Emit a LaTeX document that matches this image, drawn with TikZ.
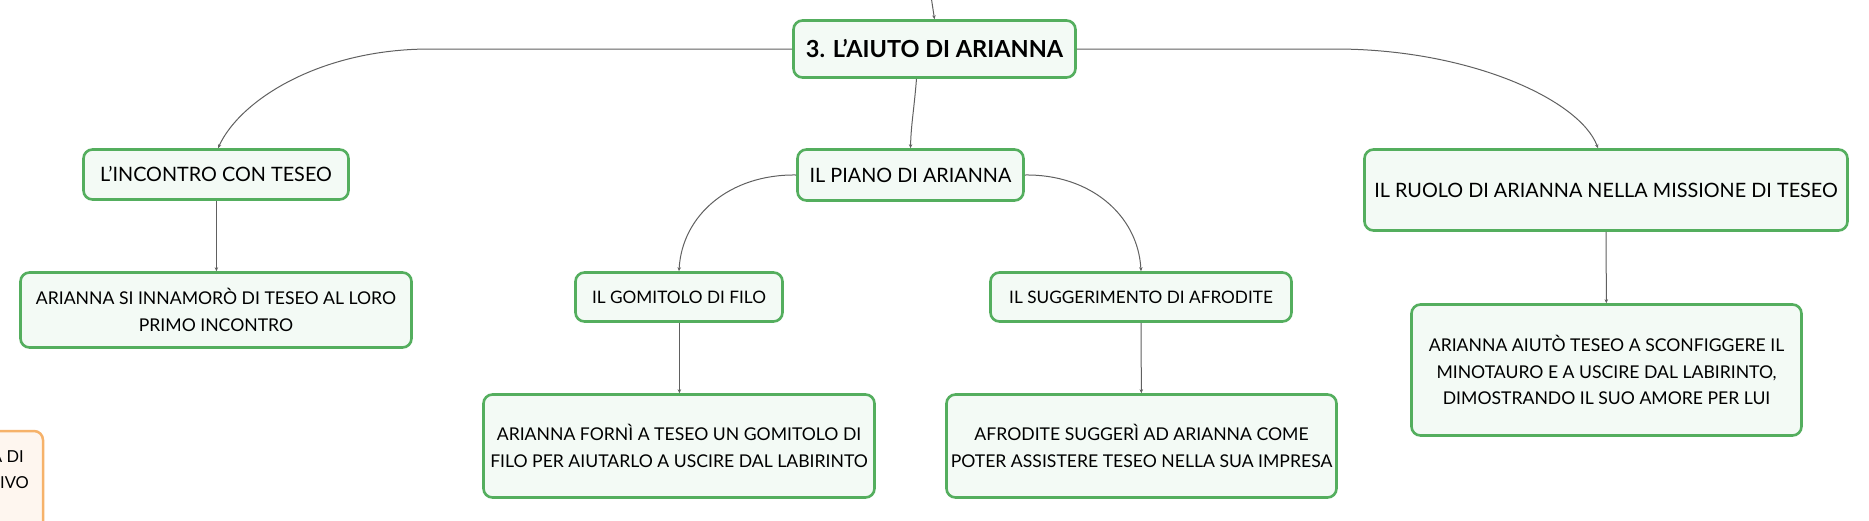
\documentclass[tikz,border=0pt]{standalone}
\usepackage{fontspec}
\setmainfont{Lato}
\usepackage{tikz}
\usetikzlibrary{arrows.meta, positioning}

\definecolor{mapgreen}{RGB}{84,174,94}
\definecolor{mapfill}{RGB}{243,250,245}
\definecolor{maporange}{RGB}{246,178,106}
\definecolor{orangefill}{RGB}{254,246,239}
\definecolor{linkgray}{RGB}{96,96,96}

\begin{document}
\begin{tikzpicture}[x=1pt, y=-1pt,
    box/.style={draw=mapgreen, line width=2.6pt, fill=mapfill, rounded corners=9pt, align=center, inner sep=0pt},
    central/.style={box, font=\fontsize{23.5}{28}\selectfont\bfseries, minimum width=282pt, minimum height=57pt},
    topic/.style={box, font=\fontsize{19.8}{24}\selectfont},
    subtopic/.style={box, font=\fontsize{17.2}{24}\selectfont},
    detail/.style={box, font=\fontsize{17.6}{26.7}\selectfont},
    link/.style={draw=linkgray, line width=1pt, -{Stealth[length=4pt, width=3.5pt]}}
]
\useasboundingbox (0,0) rectangle (1869,520);

% Node cut off at the left border
\draw[draw=maporange, line width=2.5pt, fill=orangefill, rounded corners=9pt] (-30,431) rectangle (43,560);
\node[anchor=east, inner sep=0pt, font=\fontsize{16.5}{26}\selectfont] (cutA) at (24,457) {A DI};
\node[anchor=east, inner sep=0pt, font=\fontsize{16.5}{26}\selectfont] (cutB) at (29,483) {IVO};

% Central topic
\node[central] (root) at (934.5,49) {3. L'AIUTO DI ARIANNA};
\coordinate (parent) at (931,-4);

% First level
\node[topic, minimum width=265pt, minimum height=50pt] (incontro) at (216,174.5) {L'INCONTRO CON TESEO};
\node[topic, minimum width=226pt, minimum height=51pt] (piano) at (910.5,175) {IL PIANO DI ARIANNA};
\node[topic, minimum width=483pt, minimum height=81pt] (ruolo) at (1606,190) {IL RUOLO DI ARIANNA NELLA MISSIONE DI TESEO};

% Second level
\node[subtopic, minimum width=207pt, minimum height=49pt] (gomitolo) at (679,297) {IL GOMITOLO DI FILO};
\node[subtopic, minimum width=301pt, minimum height=49pt] (afrodite) at (1141,297) {IL SUGGERIMENTO DI AFRODITE};

% Details
\node[detail, minimum width=391pt, minimum height=75pt] (innamoro) at (216,310) {ARIANNA SI INNAMORÒ DI TESEO AL LORO\\PRIMO INCONTRO};
\node[detail, minimum width=391pt, minimum height=103pt] (forni) at (679,446) {ARIANNA FORNÌ A TESEO UN GOMITOLO DI\\FILO PER AIUTARLO A USCIRE DAL LABIRINTO};
\node[detail, minimum width=390pt, minimum height=103pt] (suggeri) at (1141.5,446) {AFRODITE SUGGERÌ AD ARIANNA COME\\POTER ASSISTERE TESEO NELLA SUA IMPRESA};
\node[detail, minimum width=390pt, minimum height=131pt] (aiuto) at (1606.5,370) {ARIANNA AIUTÒ TESEO A SCONFIGGERE IL\\MINOTAURO E A USCIRE DAL LABIRINTO,\\DIMOSTRANDO IL SUO AMORE PER LUI};

% Connections
\draw[link] (parent) -- (root.north);
\draw[link] (root.west) -- (430,49) .. controls (320,49) and (240,100) .. ([xshift=2pt]incontro.north);
\draw[link] ([xshift=-18pt]root.south) .. controls (914,110) and (911,125) .. (piano.north);
\draw[link] (root.east) -- (1335,49) .. controls (1470,49) and (1580,100) .. ([xshift=-8pt]ruolo.north);
\draw[link] (piano.west) .. controls (730,174) and (682,215) .. (gomitolo.north);
\draw[link] (piano.east) .. controls (1090,174) and (1138,215) .. (afrodite.north);
\draw[link] ([xshift=0.4pt]incontro.south) -- ([xshift=0.4pt]innamoro.north);
\draw[link] ([xshift=0.4pt]gomitolo.south) -- ([xshift=0.4pt]forni.north);
\draw[link] (afrodite) -- (suggeri);
\draw[link] (ruolo) -- (aiuto);

\end{tikzpicture}
\end{document}
